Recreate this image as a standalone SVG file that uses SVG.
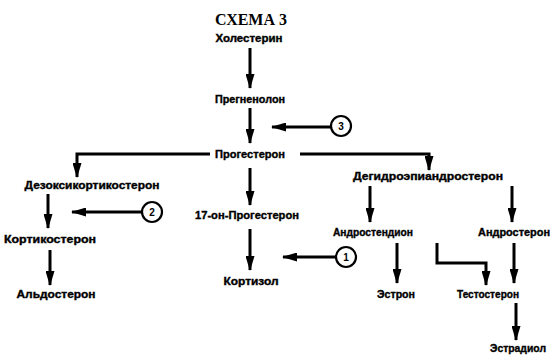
<svg xmlns="http://www.w3.org/2000/svg" width="551" height="355" viewBox="0 0 551 355">
  <style>
    .lbl { font-family: "Liberation Sans", Arial, sans-serif; font-size: 10px; font-weight: bold; fill: #000; stroke: #000; stroke-width: 0.35; text-anchor: middle; }
    .title { font-family: "Liberation Serif", "Times New Roman", serif; font-size: 17px; font-weight: bold; fill: #000; text-anchor: middle; }
    .num { font-family: "Liberation Sans", Arial, sans-serif; font-size: 10px; font-weight: bold; fill: #000; text-anchor: middle; }
    .edge { fill: none; stroke: #000; stroke-width: 3; }
    .ring { fill: #fff; stroke: #000; stroke-width: 2.2; }
  </style>
  <defs>
    <!-- long, narrow solid arrowhead shared by every connector -->
    <marker id="head" viewBox="0 0 15 9" refX="14" refY="4.5" markerWidth="15" markerHeight="9" markerUnits="userSpaceOnUse" orient="auto">
      <path d="M0,0 L15,4.5 L0,9 Z" fill="#000"/>
    </marker>
  </defs>
  <rect width="551" height="355" fill="#fff"/>

  <text class="title" x="251" y="25" textLength="72" lengthAdjust="spacingAndGlyphs">СХЕМА 3</text>

  <g id="connectors">
    <path class="edge" d="M250,48 V88" marker-end="url(#head)"/>
    <path class="edge" d="M250,108 V143" marker-end="url(#head)"/>
    <path class="edge" d="M331,127 H272" marker-end="url(#head)"/>
    <path class="edge" d="M210,154 H77 V177" marker-end="url(#head)"/>
    <path class="edge" d="M300,154 H429 V170" marker-end="url(#head)"/>
    <path class="edge" d="M250,168 V205" marker-end="url(#head)"/>
    <path class="edge" d="M48,194 V228" marker-end="url(#head)"/>
    <path class="edge" d="M142,212 H72" marker-end="url(#head)"/>
    <path class="edge" d="M50,250 V285" marker-end="url(#head)"/>
    <path class="edge" d="M250,229 V270" marker-end="url(#head)"/>
    <path class="edge" d="M336,257 H283" marker-end="url(#head)"/>
    <path class="edge" d="M370,186 V222" marker-end="url(#head)"/>
    <path class="edge" d="M512,186 V222" marker-end="url(#head)"/>
    <path class="edge" d="M397,243 V283" marker-end="url(#head)"/>
    <path class="edge" d="M437,243 V263 H486 V285" marker-end="url(#head)"/>
    <path class="edge" d="M514,243 V283" marker-end="url(#head)"/>
    <path class="edge" d="M516,303 V340" marker-end="url(#head)"/>
  </g>

  <g id="n-cholesterol"><text class="lbl" x="249" y="42" textLength="67" lengthAdjust="spacingAndGlyphs">Холестерин</text></g>
  <g id="n-pregnenolone"><text class="lbl" x="250" y="103" textLength="70" lengthAdjust="spacingAndGlyphs">Прегненолон</text></g>
  <g id="n-progesterone"><text class="lbl" x="250" y="158" textLength="70" lengthAdjust="spacingAndGlyphs">Прогестерон</text></g>
  <g id="n-doc"><text class="lbl" x="92" y="189" textLength="135" lengthAdjust="spacingAndGlyphs">Дезоксикортикостерон</text></g>
  <g id="n-corticosterone"><text class="lbl" x="50" y="243" textLength="92" lengthAdjust="spacingAndGlyphs">Кортикостерон</text></g>
  <g id="n-aldosterone"><text class="lbl" x="56" y="298" textLength="79" lengthAdjust="spacingAndGlyphs">Альдостерон</text></g>
  <g id="n-17oh"><text class="lbl" x="247" y="219" textLength="104" lengthAdjust="spacingAndGlyphs">17-он-Прогестерон</text></g>
  <g id="n-cortisol"><text class="lbl" x="251" y="285" textLength="55" lengthAdjust="spacingAndGlyphs">Кортизол</text></g>
  <g id="n-dhea"><text class="lbl" x="428" y="180" textLength="150" lengthAdjust="spacingAndGlyphs">Дегидроэпиандростерон</text></g>
  <g id="n-androstenedione"><text class="lbl" x="373" y="236" textLength="80" lengthAdjust="spacingAndGlyphs">Андростендион</text></g>
  <g id="n-androsterone"><text class="lbl" x="514" y="236" textLength="72" lengthAdjust="spacingAndGlyphs">Андростерон</text></g>
  <g id="n-estrone"><text class="lbl" x="396" y="298" textLength="38" lengthAdjust="spacingAndGlyphs">Эстрон</text></g>
  <g id="n-testosterone"><text class="lbl" x="488" y="298" textLength="62" lengthAdjust="spacingAndGlyphs">Тестостерон</text></g>
  <g id="n-estradiol"><text class="lbl" x="518" y="352" textLength="56" lengthAdjust="spacingAndGlyphs">Эстрадиол</text></g>

  <g id="n-enzyme1"><circle class="ring" cx="346" cy="257" r="10"/><text class="num" x="346" y="261">1</text></g>
  <g id="n-enzyme2"><circle class="ring" cx="152" cy="212" r="10"/><text class="num" x="152" y="216">2</text></g>
  <g id="n-enzyme3"><circle class="ring" cx="341" cy="126" r="10"/><text class="num" x="341" y="130">3</text></g>
</svg>
